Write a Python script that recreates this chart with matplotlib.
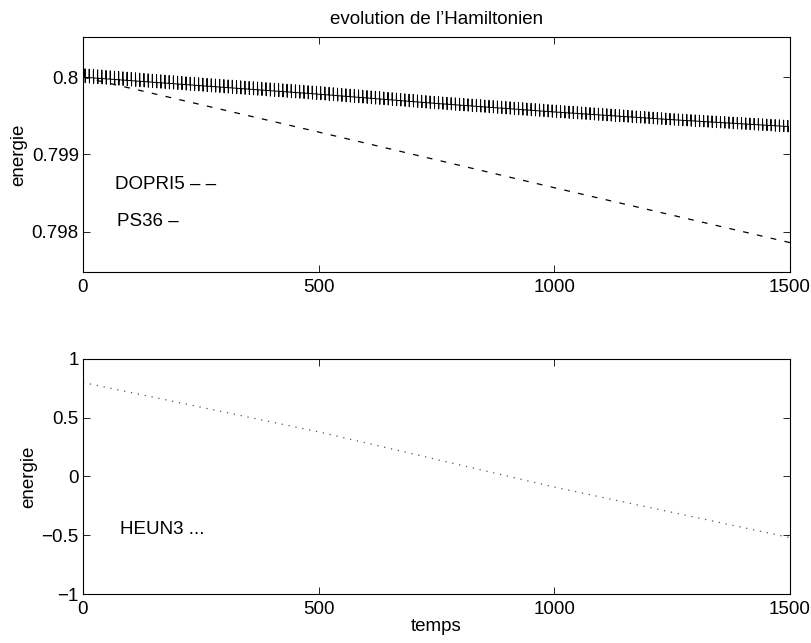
import numpy as np
import matplotlib
matplotlib.use("Agg")
import matplotlib.pyplot as plt

############### Data
# PS36 (solid, fast oscillation): centre line and spike extent at a few times
t_knots = [0, 250, 500, 750, 1000, 1250, 1500]
ps36_mid = [0.80000, 0.79989, 0.79978, 0.79966, 0.79955, 0.79945, 0.79936]
ps36_up = [0.00011, 0.00010, 0.00010, 0.00009, 0.00009, 0.00008, 0.00008]
ps36_down = [0.00007, 0.00007, 0.00007, 0.00007, 0.00007, 0.00007, 0.00007]
n_spikes = 168  # spikes counted across the top panel

# DOPRI5 (dashed)
t_dopri = [0, 500, 1000, 1500]
e_dopri = [0.80000, 0.79929, 0.79857, 0.79786]

# HEUN3 (dotted)
t_heun = [0, 500, 1000, 1500]
e_heun = [0.80, 0.38, -0.09, -0.52]

x_ticks = [0, 500, 1000, 1500]
x_labels = ['0', '500', '1000', '1500']
top_yticks = [0.798, 0.799, 0.8]
top_ylabels = ['0.798', '0.799', '0.8']
bot_yticks = [-1, -0.5, 0, 0.5, 1]
bot_ylabels = ['\u22121', '\u22120.5', '0', '0.5', '1']

############### Spiky PS36 path: flat, quick up, quick down, flat
period = 1500.0 / n_spikes
frac = np.array([0.0, 0.44, 0.48, 0.53, 0.57])
t_ps = (np.arange(n_spikes)[:, None] * period + frac * period).ravel()
base = np.interp(t_ps, t_knots, ps36_mid)
up = np.interp(t_ps, t_knots, ps36_up)
down = np.interp(t_ps, t_knots, ps36_down)
sel = np.tile([0, 0, 1, -1, 0], n_spikes)
e_ps = base + np.where(sel > 0, up, 0) - np.where(sel < 0, down, 0)

############### Figure
plt.rcParams['font.family'] = ['Liberation Sans', 'DejaVu Sans']
plt.rcParams['font.size'] = 13.5
plt.rcParams['axes.linewidth'] = 0.8

fig = plt.figure(figsize=(8.12, 6.43), dpi=100)
ax1 = fig.add_axes([0.1022, 0.577, 0.8707, 0.3655])
ax2 = fig.add_axes([0.1022, 0.0762, 0.8707, 0.3655])

############### top panel
ax1.plot(t_ps, e_ps, color='black', lw=0.7)
ax1.plot(t_dopri, e_dopri, color='black', lw=0.9, ls=(0, (4.6, 6.7)))
ax1.set_xlim(0, 1500)
ax1.set_ylim(0.79748, 0.80052)
ax1.set_yticks(top_yticks)
ax1.set_yticklabels(top_ylabels)
ax1.set_ylabel('energie', labelpad=3)
ax1.set_title("evolution de l\u2019Hamiltonien", fontsize=13.5, pad=9)
ax1.text(68, 0.798606, 'DOPRI5 \u2013 \u2013', va='center', ha='left')
ax1.text(72, 0.798129, 'PS36 \u2013', va='center', ha='left')

############### bottom panel
ax2.plot(t_heun, e_heun, color='#555555', lw=0.9, ls=(0, (1, 4.6)))
ax2.set_xlim(0, 1500)
ax2.set_ylim(-1, 1)
ax2.set_yticks(bot_yticks)
ax2.set_yticklabels(bot_ylabels)
ax2.set_ylabel('energie', labelpad=3)
ax2.set_xlabel('temps', labelpad=0)
ax2.text(78, -0.455, 'HEUN3 ...', va='center', ha='left')

for ax in (ax1, ax2):
    ax.set_xticks(x_ticks)
    ax.set_xticklabels(x_labels)
    ax.tick_params(direction='in', top=True, right=True, length=5, width=0.6)
    ax.tick_params(axis='x', pad=5)
    ax.tick_params(axis='y', pad=3)

fig.savefig('out.png', dpi=100)
